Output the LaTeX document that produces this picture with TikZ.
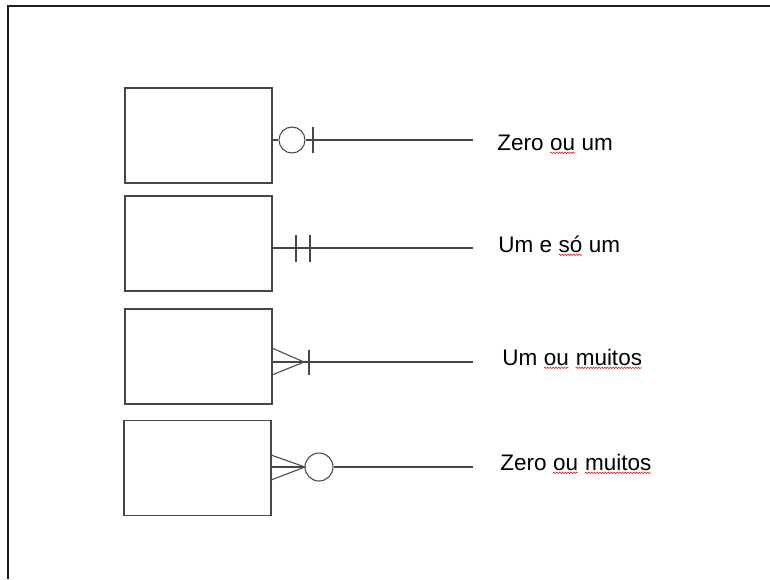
\documentclass[tikz,border=0pt]{standalone}
\usepackage{fontspec}
\setmainfont{Liberation Sans}
\usetikzlibrary{positioning,decorations.pathmorphing}
\definecolor{framegray}{RGB}{30,30,30}
\definecolor{linegray}{RGB}{70,70,70}
\definecolor{spellred}{RGB}{220,40,40}
% red squiggle under a word, as the word processor marks it
\newcommand\spellmark[1]{\tikz[baseline=(w.base)]{%
  \node[inner sep=0pt,outer sep=0pt] (w) {#1};
  \draw[spellred,line width=0.35pt,decorate,
    decoration={snake,segment length=1.6pt,amplitude=0.45pt}]
    ([yshift=-1.6pt]w.base west) -- ([yshift=-1.6pt]w.base east);}}
\tikzset{
  entbox/.style={rectangle,draw=linegray,line width=0.6pt,
    minimum width=2.94cm,minimum height=1.9cm,inner sep=0pt},
  card/.style={circle,draw=linegray,line width=0.6pt,minimum size=0.52cm,inner sep=0pt},
  rel/.style={draw=linegray,line width=0.6pt},
  bar/.style={draw=linegray,line width=0.6pt},
  lbl/.style={anchor=base west,inner sep=0pt,font=\fontsize{12.8}{15}\selectfont},
}
\begin{document}
\begin{tikzpicture}[x=0.02cm,y=-0.02cm]
  \useasboundingbox (0,0) rectangle (770,579);
  % page frame
  \draw[framegray,line width=1.1pt] (8,579) -- (8,6) -- (770,6);

  % entities
  \node[entbox] (e1) at (198.5,135.5) {};
  \node[entbox] (e2) at (198.5,243.5) {};
  \node[entbox] (e3) at (198.5,356.5) {};
  \node[entbox] (e4) at (197.5,468) {};

  % line ends
  \coordinate (a1) at (272,140);  \coordinate (b1) at (473,140);
  \coordinate (a2) at (272,248);  \coordinate (b2) at (473,248);
  \coordinate (a3) at (272,362);  \coordinate (b3) at (473,362);
  \coordinate (a4) at (271,467);  \coordinate (b4) at (473,467);

  % zero or one
  \node[card] (o1) at (292,140) {};
  \draw[rel] (a1) -- (o1);
  \draw[rel] (o1) -- (b1);
  \draw[bar] (313,127) -- (313,153);

  % one and only one
  \draw[rel] (a2) -- (b2);
  \draw[bar] (296,235) -- (296,262);
  \draw[bar] (310,235) -- (310,262);

  % one or many
  \coordinate (f3) at (304,362);
  \draw[rel] (272,348) -- (f3) -- (272,375);
  \draw[rel] (a3) -- (b3);
  \draw[bar] (309,350) -- (309,375);

  % zero or many
  \coordinate (f4) at (305,467);
  \node[card,minimum size=0.56cm] (o4) at (319,467) {};
  \draw[rel] (271,455) -- (f4) -- (271,480);
  \draw[rel] (a4) -- (f4);
  \draw[rel] (o4) -- (b4);

  % labels
  \node[lbl] (l1) at (497,150) {Zero \spellmark{ou} um};
  \node[lbl] (l2) at (498,252) {Um e \spellmark{só} um};
  \node[lbl] (l3) at (502,365) {Um \spellmark{ou} \spellmark{muitos}};
  \node[lbl] (l4) at (500,470) {Zero \spellmark{ou} \spellmark{muitos}};
\end{tikzpicture}
\end{document}
